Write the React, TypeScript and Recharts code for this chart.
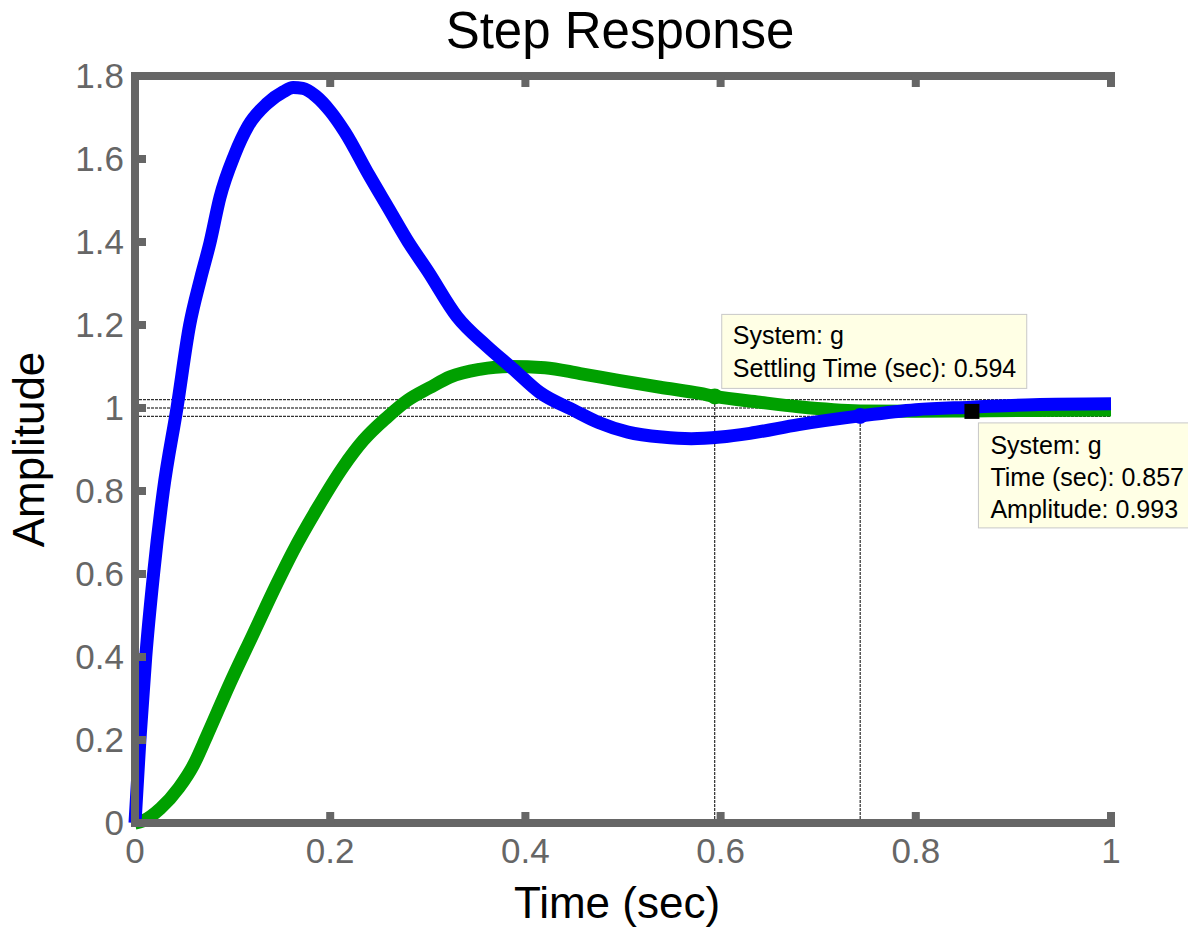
import React from 'react';
import {
    LineChart, Line, XAxis, YAxis, ReferenceLine, ReferenceDot
} from 'recharts';

// step response samples
const blueTime = [0, 0.005, 0.011, 0.019, 0.029, 0.043, 0.056, 0.067, 0.077, 0.087, 0.102, 0.116, 0.135, 0.152, 0.162, 0.172, 0.185, 0.2, 0.215, 0.24, 0.26, 0.28, 0.3, 0.33, 0.36, 0.387, 0.415, 0.45, 0.475, 0.505, 0.54, 0.57, 0.6, 0.63, 0.68, 0.743, 0.8, 0.857, 0.92, 1.0];
const blueAmp = [0, 0.2, 0.4, 0.6, 0.8, 1.0, 1.2, 1.31, 1.4, 1.507, 1.61, 1.68, 1.733, 1.762, 1.772, 1.77, 1.752, 1.715, 1.665, 1.56, 1.48, 1.4, 1.33, 1.22, 1.15, 1.095, 1.037, 0.994, 0.965, 0.942, 0.93, 0.926, 0.93, 0.939, 0.96, 0.981, 0.996, 1.002, 1.008, 1.01];

const greenTime = [0, 0.008, 0.026, 0.045, 0.06, 0.074, 0.097, 0.121, 0.145, 0.162, 0.186, 0.213, 0.234, 0.258, 0.279, 0.302, 0.323, 0.353, 0.384, 0.42, 0.456, 0.497, 0.538, 0.579, 0.594, 0.64, 0.68, 0.743, 0.8, 0.857, 0.92, 1.0];
const greenAmp = [0, 0.005, 0.035, 0.085, 0.14, 0.212, 0.335, 0.455, 0.575, 0.655, 0.755, 0.857, 0.922, 0.977, 1.018, 1.049, 1.075, 1.093, 1.1, 1.097, 1.083, 1.066, 1.05, 1.035, 1.028, 1.014, 1.003, 0.993, 0.992, 0.993, 0.994, 0.995];

const xTicks = [0, 0.2, 0.4, 0.6, 0.8, 1];
const yTicks = [0, 0.2, 0.4, 0.6, 0.8, 1, 1.2, 1.4, 1.6, 1.8];

// settling band and settling points
const bandLevels = [1.02, 1, 0.98];
const settleTime = [0.594, 0.743];
const settleAmp = [1.028, 0.981];

// data tip
const tipTime = 0.857;
const tipAmp = 0.993;

const blueData = blueTime.map((t, i) => ({ t, a: blueAmp[i] }));
const greenData = greenTime.map((t, i) => ({ t, a: greenAmp[i] }));

const FONT = '"Liberation Sans", Arial, sans-serif';
const GRAY = '#666666';
const BLUE = '#0000ff';
const GREEN = '#00a000';
const TIP_FILL = '#ffffe5';
const TIP_STROKE = '#c8c8c8';
const TIP_FONT = 25;

const tickStyle = { fill: GRAY, fontSize: 35, fontFamily: FONT };
const frameLine = { stroke: GRAY, strokeWidth: 8, strokeLinecap: 'square' as const };
const frameTick = { stroke: GRAY, strokeWidth: 8 };
const emptyTick = () => <g />;

const SettleTip = (props: any) => {
    const { cx, cy } = props;
    return (
        <g>
            <circle cx={cx} cy={cy} r={8} fill={GREEN} />
            <rect x={cx + 7} y={cy - 82} width={305} height={74} fill={TIP_FILL} stroke={TIP_STROKE} strokeWidth={1} />
            <text x={cx + 18} y={cy - 52} fontSize={TIP_FONT} fontFamily={FONT} fill="#000">System: g</text>
            <text x={cx + 18} y={cy - 19} fontSize={TIP_FONT} fontFamily={FONT} fill="#000">Settling Time (sec): 0.594</text>
        </g>
    );
};

const DataTip = (props: any) => {
    const { cx, cy } = props;
    return (
        <g>
            <rect x={cx - 7} y={cy - 7} width={15} height={15} fill="#000" />
            <rect x={cx + 7} y={cy + 12} width={230} height={105} fill={TIP_FILL} stroke={TIP_STROKE} strokeWidth={1} />
            <text x={cx + 19} y={cy + 43} fontSize={TIP_FONT} fontFamily={FONT} fill="#000">System: g</text>
            <text x={cx + 19} y={cy + 75} fontSize={TIP_FONT} fontFamily={FONT} fill="#000">Time (sec): 0.857</text>
            <text x={cx + 19} y={cy + 107} fontSize={TIP_FONT} fontFamily={FONT} fill="#000">Amplitude: 0.993</text>
        </g>
    );
};

const BlueDot = (props: any) => <circle cx={props.cx} cy={props.cy} r={8} fill={BLUE} />;

// y label plus the title, drawn from the left axis box
const YLabelAndTitle = (p: any) => {
    const cy = p.viewBox.y + p.viewBox.height / 2;
    return (
        <g>
            <text x={620} y={48} textAnchor="middle" fontSize={51} fontFamily={FONT} fill="#000">Step Response</text>
            <text x={44} y={cy} textAnchor="middle" transform={`rotate(-90, 44, ${cy})`}
                fontSize={44} fontFamily={FONT} fill="#000">Amplitude</text>
        </g>
    );
};

export default function App() {
    return (
        <div style={{ position: 'absolute', left: 0, top: 0, width: 1188, height: 929, background: '#fff' }}>
            <LineChart width={1188} height={929} margin={{ top: 56, right: 77, bottom: 0, left: 0 }}>
                <XAxis
                    dataKey="t" type="number" domain={[0, 1]} ticks={xTicks} height={106}
                    axisLine={frameLine} tickLine={frameTick} tickSize={-11} tickMargin={26}
                    tick={tickStyle} interval={0}
                    label={{
                        content: (p: any) => (
                            <text x={p.viewBox.x + p.viewBox.width / 2 - 6} y={918} textAnchor="middle"
                                fontSize={44} fontFamily={FONT} fill="#000">Time (sec)</text>
                        )
                    }}
                />
                <XAxis
                    xAxisId="top" orientation="top" dataKey="t" type="number" domain={[0, 1]} ticks={xTicks} height={20}
                    axisLine={frameLine} tickLine={frameTick} tickSize={-11} tick={emptyTick} interval={0}
                />
                <YAxis
                    type="number" domain={[0, 1.8]} ticks={yTicks} width={135}
                    axisLine={frameLine} tickLine={frameTick} tickSize={-11} tickMargin={22}
                    tick={tickStyle} interval={0}
                    label={{ content: YLabelAndTitle }}
                />
                <YAxis
                    yAxisId="right" orientation="right" type="number" domain={[0, 1.8]} ticks={yTicks} width={0}
                    axisLine={frameLine} tickLine={frameTick} tickSize={-11} tick={emptyTick} interval={0}
                />

                {bandLevels.map(v => (
                    <ReferenceLine key={v} y={v} stroke="#000" strokeWidth={1} strokeDasharray="3 1" />
                ))}
                {settleTime.map((t, i) => (
                    <ReferenceLine key={t} segment={[{ x: t, y: 0 }, { x: t, y: settleAmp[i] }]}
                        stroke="#000" strokeWidth={1} strokeDasharray="3 1" />
                ))}

                <Line data={greenData} dataKey="a" type="monotone" stroke={GREEN} strokeWidth={13}
                    dot={false} isAnimationActive={false} />
                <Line data={blueData} dataKey="a" type="monotone" stroke={BLUE} strokeWidth={13}
                    xAxisId="top" yAxisId="right" dot={false} isAnimationActive={false} />

                <ReferenceDot x={settleTime[1]} y={settleAmp[1]} shape={BlueDot} />
                <ReferenceDot x={settleTime[0]} y={settleAmp[0]} shape={SettleTip} />
                <ReferenceDot x={tipTime} y={tipAmp} shape={DataTip} />
            </LineChart>
        </div>
    );
}
